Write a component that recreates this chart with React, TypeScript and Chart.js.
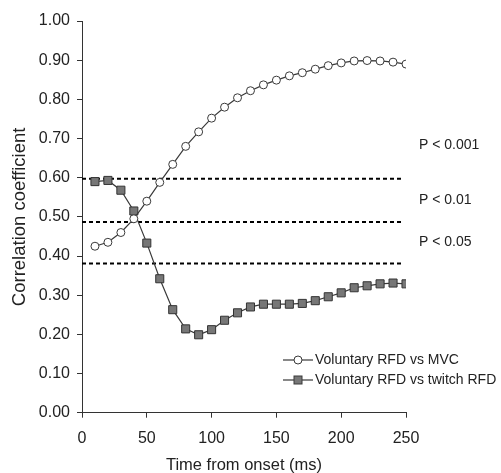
import React, { useEffect, useRef } from "react";
import { Chart, registerables } from "chart.js";

Chart.register(...registerables);

const timeMs = [10, 20, 30, 40, 50, 60, 70, 80, 90, 100, 110, 120, 130, 140, 150, 160, 170, 180, 190, 200, 210, 220, 230, 240, 250];
const rfdVsMvc = [0.425, 0.435, 0.46, 0.495, 0.54, 0.588, 0.634, 0.68, 0.717, 0.752, 0.78, 0.804, 0.822, 0.837, 0.849, 0.86, 0.868, 0.877, 0.886, 0.893, 0.898, 0.899, 0.898, 0.895, 0.89];
const rfdVsTwitch = [0.59, 0.593, 0.568, 0.515, 0.433, 0.342, 0.263, 0.214, 0.199, 0.212, 0.236, 0.255, 0.27, 0.277, 0.277, 0.277, 0.279, 0.286, 0.296, 0.306, 0.319, 0.324, 0.329, 0.331, 0.329];
const thresholds = [0.597, 0.487, 0.381];
const thresholdLabels = ["P < 0.001", "P < 0.01", "P < 0.05"];
const thresholdLabelY = [0.682, 0.543, 0.435];
const seriesNames = ["Voluntary RFD vs MVC", "Voluntary RFD vs twitch RFD"];
const xTicks = [0, 50, 100, 150, 200, 250];

const FONT = "Arial, 'Liberation Sans', sans-serif";
const LINE = "#3a3a3a";
const TEXT = "#222";

const overlayPlugin = {
  id: "overlay",
  afterDraw(chart: any) {
    const ctx = chart.ctx;
    const xs = chart.scales.x;
    const ys = chart.scales.y;
    ctx.save();
    ctx.fillStyle = TEXT;
    ctx.font = `14px ${FONT}`;
    ctx.textBaseline = "middle";
    ctx.textAlign = "left";
    thresholdLabels.forEach((t, i) => {
      ctx.fillText(t, xs.getPixelForValue(260), ys.getPixelForValue(thresholdLabelY[i]));
    });
    // legend
    const lx0 = 283, lx1 = 313, tx = 315;
    const rows = [360, 380];
    rows.forEach((ry, i) => {
      ctx.strokeStyle = LINE;
      ctx.lineWidth = 1.2;
      ctx.beginPath();
      ctx.moveTo(lx0, ry);
      ctx.lineTo(lx1, ry);
      ctx.stroke();
      const cx = (lx0 + lx1) / 2;
      ctx.lineWidth = 1;
      if (i === 0) {
        ctx.fillStyle = "#fff";
        ctx.beginPath();
        ctx.arc(cx, ry, 4, 0, Math.PI * 2);
        ctx.fill();
        ctx.stroke();
      } else {
        ctx.fillStyle = "#777";
        ctx.fillRect(cx - 4, ry - 4, 8, 8);
        ctx.strokeRect(cx - 4, ry - 4, 8, 8);
      }
      ctx.fillStyle = TEXT;
      ctx.font = `14px ${FONT}`;
      ctx.fillText(seriesNames[i], tx, ry);
    });
    ctx.restore();
  },
};

export default function App() {
  const ref = useRef<HTMLCanvasElement>(null);
  useEffect(() => {
    if (!ref.current) return;
    const dashed = thresholds.map((v) => ({
      label: "thr",
      data: [{ x: 0, y: v }, { x: 248, y: v }],
      borderColor: "#000",
      borderWidth: 2,
      borderDash: [4, 3],
      pointRadius: 0,
      fill: false,
      order: 5,
    }));
    const chart = new Chart(ref.current, {
      type: "line",
      data: {
        datasets: [
          ...dashed,
          {
            label: seriesNames[0],
            data: timeMs.map((x, i) => ({ x, y: rfdVsMvc[i] })),
            borderColor: LINE,
            borderWidth: 1.2,
            pointStyle: "circle",
            pointRadius: 4,
            pointBackgroundColor: "#fff",
            pointBorderColor: LINE,
            pointBorderWidth: 1,
            order: 1,
          },
          {
            label: seriesNames[1],
            data: timeMs.map((x, i) => ({ x, y: rfdVsTwitch[i] })),
            borderColor: LINE,
            borderWidth: 1.2,
            pointStyle: "rect",
            pointRadius: 5.7,
            pointBackgroundColor: "#777",
            pointBorderColor: "#333",
            pointBorderWidth: 1,
            order: 2,
          },
        ] as any,
      },
      options: {
        animation: false,
        responsive: false,
        layout: { padding: { left: 0, right: 95, top: 21, bottom: 0 } },
        plugins: { legend: { display: false }, tooltip: { enabled: false } },
        scales: {
          x: {
            type: "linear",
            min: 0,
            max: 250,
            afterFit: (s: any) => { s.height = 60.3; },
            afterBuildTicks: (s: any) => { s.ticks = xTicks.map((v) => ({ value: v })); },
            ticks: { font: { family: FONT, size: 16 }, color: TEXT, padding: 11 },
            grid: { drawOnChartArea: false, tickLength: 5, color: "#333" },
            border: { color: "#333", width: 1 },
            title: { display: true, text: "Time from onset (ms)", font: { family: FONT, size: 16.5 }, color: TEXT, padding: { top: 0, bottom: -2 } },
          },
          y: {
            min: 0,
            max: 1,
            afterFit: (s: any) => { s.width = 82; },
            ticks: { stepSize: 0.1, font: { family: FONT, size: 16 }, color: TEXT, padding: 7, callback: (v: any) => Number(v).toFixed(2) },
            grid: { drawOnChartArea: false, tickLength: 5, color: "#333" },
            border: { color: "#333", width: 1 },
            title: { display: true, text: "Correlation coefficient", font: { family: FONT, size: 18.5 }, color: TEXT, padding: { top: 9, bottom: 0 } },
          },
        },
      },
      plugins: [overlayPlugin],
    });
    return () => chart.destroy();
  }, []);
  return (
    <div style={{ position: "absolute", left: 0, top: 0 }}>
      <canvas ref={ref} width={501} height={473} style={{ width: 501, height: 473 }} />
    </div>
  );
}
